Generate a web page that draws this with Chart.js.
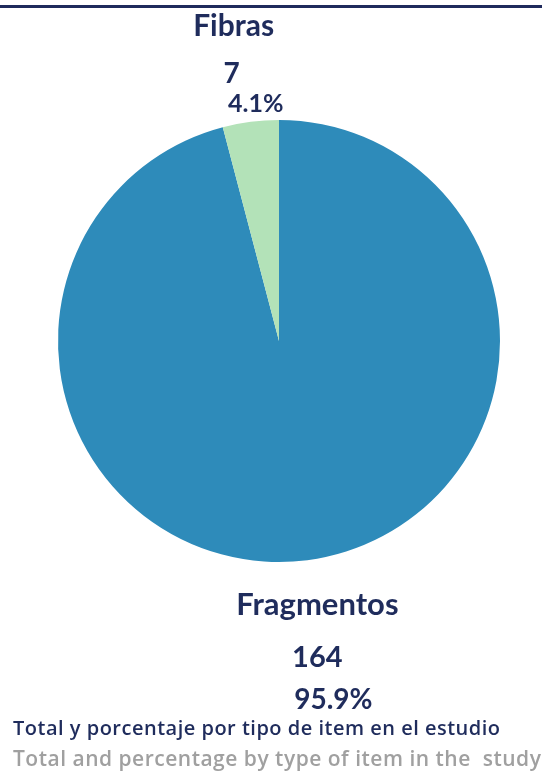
<!DOCTYPE html>
<html>
<head>
<meta charset="utf-8">
<script src="https://cdn.jsdelivr.net/npm/chart.js@4.4.0/dist/chart.umd.min.js"></script>
<style>
  html, body { margin: 0; padding: 0; background: #fff; }
  #wrap { position: relative; width: 542px; height: 771px; overflow: hidden; }
  #topline { position: absolute; left: 0; top: 5px; width: 542px; height: 3px; background: #1f2a5c; }
  canvas { position: absolute; left: 0; top: 0; }
  .foot { position: absolute; left: 13px; white-space: nowrap; font-family: "Open Sans", sans-serif; font-size: 20px; letter-spacing: 0.5px; }
  #foot1 { top: 714px; color: #1f2c5c; font-weight: 600; }
  #foot2 { top: 744px; color: #a0a0a0; font-weight: 600; font-size: 21px; }
</style>
</head>
<body>
<div id="wrap">
  <div id="topline"></div>
  <canvas id="pieChart" width="542" height="771"></canvas>
  <div class="foot" id="foot1">Total y porcentaje por tipo de item en el estudio</div>
  <div class="foot" id="foot2">Total and percentage by type of item in the&nbsp; study</div>
</div>
<script>
// --- datos ---
const categories = ['Fragmentos', 'Fibras'];
const counts = [164, 7];
const percents = ['95.9%', '4.1%'];
const sliceColors = ['#2e8bba', '#b3e2b8'];

const TEXT_COLOR = '#1f2c5c';

// etiquetas tipo Excel: nombre, valor y porcentaje
const labelPlugin = {
    id: 'pieLabels',
    afterDraw(chart) {
        const ctx = chart.ctx;
        const meta = chart.getDatasetMeta(0);
        // desplazamientos [dx, dy] desde el punto medio del arco
        const offsets = [
            [[10, 55], [10, 107], [26, 149]],
            [[-17, -86], [-19, -39], [5, -10]]
        ];
        const sizes = [[31, 29, 28], [30, 28, 25]];
        meta.data.forEach((arc, i) => {
            const p = arc.getProps(['x', 'y', 'startAngle', 'endAngle', 'outerRadius'], true);
            const mid = (p.startAngle + p.endAngle) / 2;
            const ax = p.x + Math.cos(mid) * p.outerRadius;
            const ay = p.y + Math.sin(mid) * p.outerRadius;
            const lines = [categories[i], String(counts[i]), percents[i]];
            ctx.save();
            ctx.fillStyle = TEXT_COLOR;
            ctx.textAlign = 'center';
            ctx.textBaseline = 'alphabetic';
            lines.forEach((t, k) => {
                ctx.font = 'bold ' + sizes[i][k] + 'px Lato, sans-serif';
                ctx.fillText(t, ax + offsets[i][k][0], ay + offsets[i][k][1]);
            });
            ctx.restore();
        });
    }
};

function initChart() {
    const ctx = document.getElementById('pieChart').getContext('2d');
    new Chart(ctx, {
        type: 'pie',
        data: {
            labels: categories,
            datasets: [{
                data: counts,
                backgroundColor: sliceColors,
                borderWidth: 0
            }]
        },
        options: {
            responsive: false,
            animation: false,
            layout: { padding: { left: 58, right: 42, top: 120, bottom: 209 } },
            plugins: {
                legend: { display: false },
                tooltip: { enabled: false }
            }
        },
        plugins: [labelPlugin]
    });
}

document.addEventListener('DOMContentLoaded', initChart);
</script>
</body>
</html>
